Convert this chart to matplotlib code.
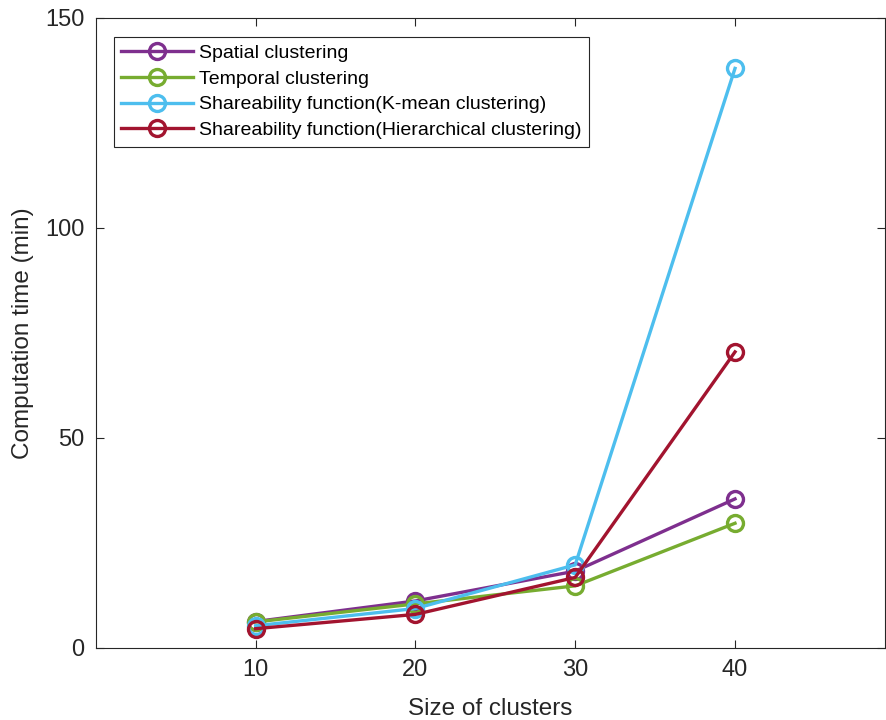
import matplotlib
matplotlib.use('Agg')
import matplotlib.pyplot as plt

plt.rcParams['font.family'] = ['Liberation Sans', 'DejaVu Sans']

#DATI ---------------------------------
sizes = [10, 20, 30, 40]
spatial = [6.3, 11.2, 18.3, 35.5]
temporal = [6.2, 10.5, 14.8, 29.7]
kmean = [5.3, 9.4, 19.8, 138.0]
hierarchical = [4.6, 8.0, 16.8, 70.5]

labels = ['Spatial clustering', 'Temporal clustering',
          'Shareability function(K-mean clustering)',
          'Shareability function(Hierarchical clustering)']
colors = ['#7E2F8E', '#77AC30', '#4DBEEE', '#A2142F']
#--------------------------------------

fig = plt.figure(figsize=(8.87, 7.2), dpi=100)
ax = fig.add_axes([0.108, 0.1, 0.89, 0.875])

for serie, lab, col in zip([spatial, temporal, kmean, hierarchical], labels, colors):
    ax.plot(sizes, serie, '-o', color=col, label=lab, linewidth=2.4,
            markersize=11.5, markerfacecolor='none', markeredgewidth=2.4)

ax.set_xlim(0, 49.4)
ax.set_ylim(0, 150)
ax.set_xticks(sizes)
ax.set_yticks([0, 50, 100, 150])
ax.tick_params(direction='in', top=True, right=True, labelsize=17,
               colors='#262626', length=6, width=0.8, pad=8)
for sp in ax.spines.values():
    sp.set_color('#262626')
    sp.set_linewidth(0.8)

ax.set_xlabel('Size of clusters', fontsize=17.5, color='#262626', labelpad=12)
ax.set_ylabel('Computation time (min)', fontsize=17.5, color='#262626', labelpad=8)

leg = ax.legend(loc='upper left', bbox_to_anchor=(0.023, 0.97), fontsize=14,
                fancybox=False, framealpha=1, edgecolor='#262626',
                handlelength=3.7, handletextpad=0.3, labelspacing=0.42,
                borderpad=0.38, borderaxespad=0)
leg.get_frame().set_linewidth(0.8)

fig.savefig('out.png', dpi=100)
